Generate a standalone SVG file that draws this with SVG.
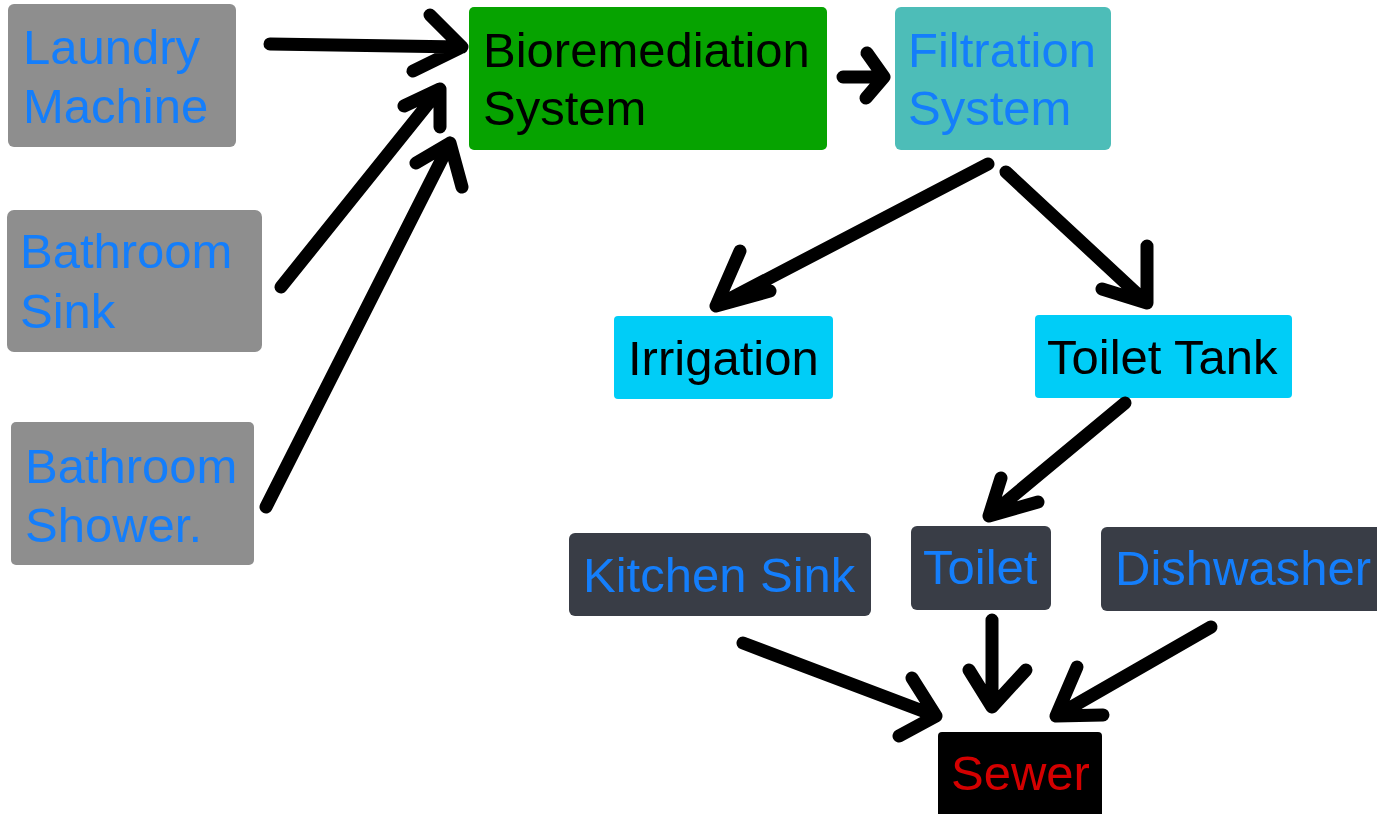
<svg xmlns="http://www.w3.org/2000/svg" width="1377" height="814" viewBox="0 0 1377 814">
<style>
text{font-family:"Liberation Sans",Arial,sans-serif;font-size:49px}
.grey{fill:#8e8e8e}
.dark{fill:#393d46}
.cyan{fill:#00cdf7}
.blue{fill:#147efb}
.blk{fill:#000}
.red{fill:#d40000}
.arr{fill:none;stroke:#000;stroke-width:13;stroke-linecap:round;stroke-linejoin:round}
</style>
<rect width="1377" height="814" fill="#fff"/>
<g id="laundry"><rect class="grey" x="8" y="4" width="228" height="143" rx="6"/><text class="blue" x="23" y="64">Laundry</text><text class="blue" x="23" y="123">Machine</text></g>
<g id="bsink"><rect class="grey" x="7" y="210" width="255" height="142" rx="7"/><text class="blue" x="20" y="268">Bathroom</text><text class="blue" x="20" y="328">Sink</text></g>
<g id="bshower"><rect class="grey" x="11" y="422" width="243" height="143" rx="5"/><text class="blue" x="25" y="483">Bathroom</text><text class="blue" x="25" y="542">Shower.</text></g>
<g id="bio"><rect x="469" y="7" width="358" height="143" rx="5" fill="#06a300"/><text class="blk" x="483" y="67">Bioremediation</text><text class="blk" x="483" y="125">System</text></g>
<g id="filt"><rect x="895" y="7" width="216" height="143" rx="6" fill="#4dbdb8"/><text class="blue" x="908" y="67">Filtration</text><text class="blue" x="908" y="125">System</text></g>
<g id="irr"><rect class="cyan" x="614" y="316" width="219" height="83" rx="4"/><text class="blk" x="628" y="375">Irrigation</text></g>
<g id="tank"><rect class="cyan" x="1035" y="315" width="257" height="83" rx="4"/><text class="blk" x="1047" y="374">Toilet Tank</text></g>
<g id="kitchen"><rect class="dark" x="569" y="533" width="302" height="83" rx="6"/><text class="blue" x="583" y="592">Kitchen Sink</text></g>
<g id="toilet"><rect class="dark" x="911" y="526" width="140" height="84" rx="6"/><text class="blue" x="923" y="584">Toilet</text></g>
<g id="dish"><rect class="dark" x="1101" y="527" width="290" height="84" rx="6"/><text class="blue" x="1115" y="585">Dishwasher</text></g>
<g id="sewer"><rect x="938" y="732" width="164" height="90" rx="4" fill="#000"/><text class="red" x="951" y="790">Sewer</text></g>
<g id="connectors">
<path class="arr" d="M270 44 L462 47 M430 15 L462 47 L413 71"/>
<path class="arr" d="M281 287 L440 89 M404 106 L440 89 L440 127"/>
<path class="arr" d="M266 507 L450 143 M416 163 L450 143 L462 187"/>
<path class="arr" d="M843 77 L884 77 M867 53 L884 77 L866 98"/>
<path class="arr" d="M988 164 L716 306 M740 251 L716 306 L770 291"/>
<path class="arr" d="M1006 172 L1147 303 M1147 246 L1147 303 L1102 289"/>
<path class="arr" d="M1125 403 L989 516 M1001 478 L989 516 L1038 502"/>
<path class="arr" d="M743 643 L936 716 M912 678 L936 716 L899 736"/>
<path class="arr" d="M992 620 L992 707 M969 670 L992 707 L1026 670"/>
<path class="arr" d="M1211 627 L1056 716 M1077 667 L1056 716 L1103 715"/>
</g>
</svg>
